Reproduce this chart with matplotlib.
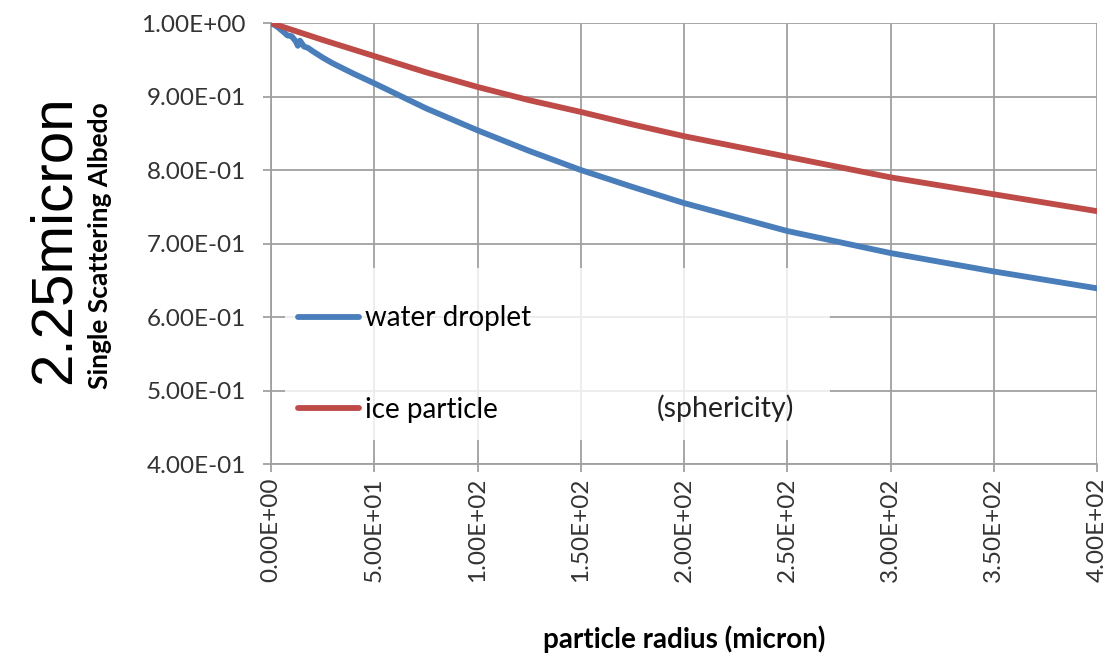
import matplotlib
matplotlib.use("Agg")
import matplotlib.pyplot as plt
from matplotlib.patches import Rectangle

radius_water = [0, 3, 6, 8, 10, 12, 13, 14, 16, 18, 20, 25, 30, 40, 50, 75, 100, 125, 150, 175, 200, 250, 300, 350, 400]
albedo_water = [1.0, 0.995, 0.988, 0.983, 0.982, 0.975, 0.969, 0.976, 0.968, 0.966, 0.962, 0.953, 0.945, 0.931, 0.918, 0.884, 0.854, 0.826, 0.800, 0.777, 0.755, 0.717, 0.687, 0.662, 0.639]
radius_ice = [0, 25, 50, 75, 100, 125, 150, 175, 200, 250, 300, 350, 400]
albedo_ice = [1.0, 0.977, 0.955, 0.933, 0.913, 0.895, 0.879, 0.862, 0.846, 0.818, 0.790, 0.767, 0.744]
xticks = [0, 50, 100, 150, 200, 250, 300, 350, 400]
xtick_labels = ["0.00E+00", "5.00E+01", "1.00E+02", "1.50E+02", "2.00E+02", "2.50E+02", "3.00E+02", "3.50E+02", "4.00E+02"]
yticks = [0.4, 0.5, 0.6, 0.7, 0.8, 0.9, 1.0]
ytick_labels = ["4.00E-01", "5.00E-01", "6.00E-01", "7.00E-01", "8.00E-01", "9.00E-01", "1.00E+00"]

plt.rcParams['font.family'] = ['Lato', 'DejaVu Sans']

fig = plt.figure(figsize=(11.1, 6.58), dpi=100)
ax = fig.add_axes([271/1110, 1 - 464/658, (1097-271)/1110, (464-23)/658])

ax.plot(radius_water, albedo_water, color="#4A7EBB", lw=4.2, label="water droplet", solid_capstyle="round", zorder=3)
ax.plot(radius_ice, albedo_ice, color="#BE4B48", lw=4.2, label="ice particle", solid_capstyle="round", zorder=3)

ax.set_xlim(0, 400)
ax.set_ylim(0.4, 1.0)
ax.set_xticks(xticks)
ax.set_xticklabels(xtick_labels, rotation=90, fontsize=17.5, color="#333333")
ax.set_yticks(yticks)
ax.set_yticklabels(ytick_labels, fontsize=17.5, color="#333333")
ax.grid(True, color="#a0a0a0", lw=1.3)
ax.set_axisbelow(True)
for s in ["top", "right"]:
    ax.spines[s].set_visible(False)
for s in ["left", "bottom"]:
    ax.spines[s].set_color("#a0a0a0")
    ax.spines[s].set_linewidth(1.3)
ax.tick_params(axis="both", length=6, color="#a0a0a0", width=1.3)
ax.tick_params(axis="y", pad=12)

ax.set_xlabel("particle radius (micron)", fontsize=20, fontweight="bold")
ax.xaxis.set_label_coords(0.5, -0.365)
ax.set_ylabel("Single Scattering Albedo", fontsize=19, fontweight="bold")
ax.yaxis.set_label_coords(-0.193, 0.495)

fig.text(55/1110, 1 - 240/658, "2.25micron", rotation=90, fontsize=42, family=["Liberation Sans"],
         ha="center", va="center")

# white (partly transparent) legend area
ax.add_patch(Rectangle(((285-271)/826, (464-440)/441), (830-285)/826, (440-268)/441,
                       transform=ax.transAxes, facecolor="white", alpha=0.8, edgecolor="none", zorder=4))

leg = ax.legend(loc="upper left", bbox_to_anchor=(0.033, 0.36), fontsize=20, frameon=False,
                labelspacing=2.35, handlelength=2.2, handletextpad=0.2, borderpad=0, borderaxespad=0)
leg.set_zorder(5)
ax.text((657-271)/826, (464-408)/441, "(sphericity)", transform=ax.transAxes, fontsize=20.5,
        va="center", ha="left", color="#222222", zorder=6)

fig.savefig("out.png", dpi=100)
